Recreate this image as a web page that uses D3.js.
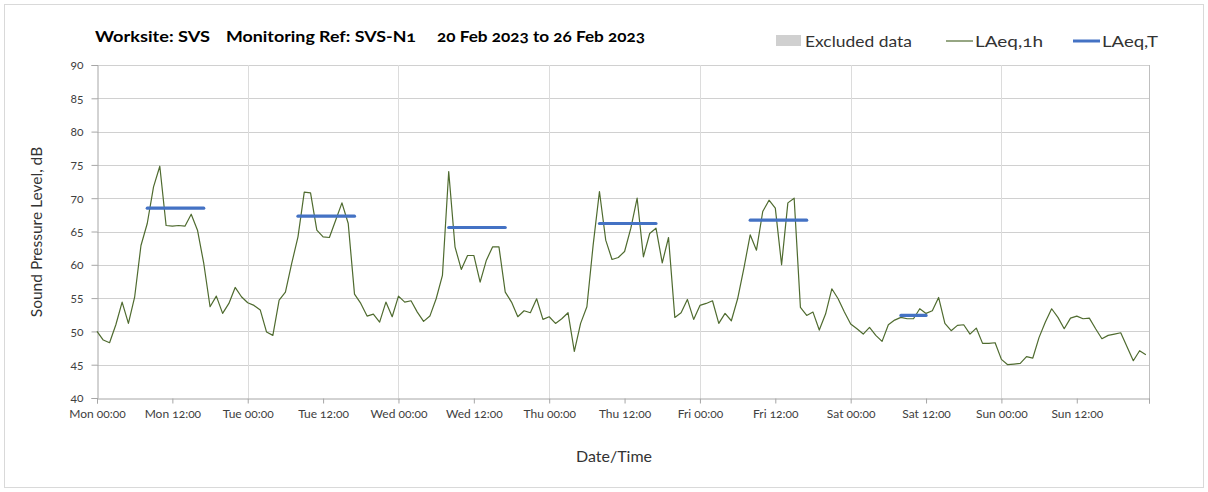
<!DOCTYPE html>
<html>
<head>
<meta charset="utf-8">
<script src="https://cdn.jsdelivr.net/npm/d3@7/dist/d3.min.js"></script>
<style>
  html, body { margin: 0; padding: 0; background: #fff; }
  svg text { font-family: Lato, "Open Sans", sans-serif; font-feature-settings: "onum"; }
</style>
</head>
<body>
<svg id="chart" width="1208" height="492"></svg>
<script>
// ---------- DATA ----------
const titleParts = ["Worksite: SVS", "Monitoring Ref: SVS-N1", "20 Feb 2023 to 26 Feb 2023"];
const legendLabels = ["Excluded data", "LAeq,1h", "LAeq,T"];
const xTickLabels = ["Mon 00:00","Mon 12:00","Tue 00:00","Tue 12:00","Wed 00:00","Wed 12:00",
  "Thu 00:00","Thu 12:00","Fri 00:00","Fri 12:00","Sat 00:00","Sat 12:00","Sun 00:00","Sun 12:00"];
const xTickHours = [0,12,24,36,48,60,72,84,96,108,120,132,144,156];
const dayGridHours = [24,48,72,96,120,144];
const yTicks = [40,45,50,55,60,65,70,75,80,85,90];

// hourly LAeq,1h values, hour 0 = Mon 00:00
const laeq1h = [
  50.0,48.7,48.3,51.0,54.4,51.2,55.2,62.9,66.2,71.7,74.8,65.9,65.8,65.9,65.8,67.6,65.2,60.2,53.7,55.3,52.7,54.2,56.6,55.2,
  54.3,53.9,53.2,49.9,49.4,54.7,55.9,60.2,64.2,70.9,70.8,65.2,64.2,64.1,66.7,69.3,66.2,55.6,54.2,52.3,52.6,51.4,54.4,52.2,
  55.3,54.4,54.6,52.9,51.5,52.3,54.9,58.4,74.0,62.7,59.3,61.4,61.4,57.4,60.7,62.7,62.7,55.9,54.4,52.2,53.1,52.8,54.9,51.8,
  52.2,51.2,51.9,52.8,47.0,51.2,53.7,63.0,71.0,63.7,60.8,61.1,62.0,65.5,70.0,61.2,64.7,65.5,60.3,64.1,52.1,52.8,54.8,51.8,
  53.9,54.2,54.6,51.2,52.7,51.6,54.9,59.5,64.5,62.2,68.0,69.7,68.5,60.0,69.3,70.0,53.6,52.4,52.9,50.2,52.6,56.4,54.9,52.9,
  51.1,50.4,49.6,50.6,49.4,48.5,51.0,51.7,52.1,51.9,51.9,53.4,52.7,53.1,55.1,51.2,50.1,50.9,51.0,49.6,50.5,48.2,48.2,48.3,
  45.8,45.0,45.1,45.2,46.2,46.0,49.1,51.4,53.4,52.1,50.4,52.0,52.3,51.9,52.0,50.4,48.9,49.4,49.6,49.8,47.7,45.6,47.1,46.5
];

// LAeq,T period values (start hour, end hour, level)
const periodStart = [8, 32, 56, 80, 104, 128];
const periodEnd   = [17, 41, 65, 89, 113, 132];
const periodLevel = [68.5, 67.3, 65.6, 66.2, 66.7, 52.4];

// ---------- CHART ----------
const svg = d3.select("#chart");
const plotL = 97, plotR = 1149, plotT = 65, plotB = 398;

const x = d3.scaleLinear().domain([0, 167.5]).range([plotL, plotR]);
const y = d3.scaleLinear().domain([40, 90]).range([plotB, plotT]);

// outer frame
svg.append("rect").attr("x", 4.5).attr("y", 4.5).attr("width", 1199).attr("height", 483)
  .attr("fill", "#fff").attr("stroke", "#d9d9d9").attr("stroke-width", 1);

// horizontal gridlines
svg.append("g").selectAll("line").data(yTicks.filter(v => v > 40)).join("line")
  .attr("x1", plotL).attr("x2", plotR)
  .attr("y1", d => Math.round(y(d)) + 0.5).attr("y2", d => Math.round(y(d)) + 0.5)
  .attr("stroke", "#d0d0d0").attr("stroke-width", 1);

// vertical day gridlines
svg.append("g").selectAll("line").data(dayGridHours).join("line")
  .attr("x1", d => Math.round(x(d)) + 0.5).attr("x2", d => Math.round(x(d)) + 0.5)
  .attr("y1", plotT).attr("y2", plotB)
  .attr("stroke", "#dcdcdc").attr("stroke-width", 1);

// right border
svg.append("line").attr("x1", plotR + 0.5).attr("x2", plotR + 0.5).attr("y1", plotT).attr("y2", plotB + 5)
  .attr("stroke", "#bfbfbf");

// y axis
const yAxis = d3.axisLeft(y).tickValues(yTicks).tickSize(6).tickPadding(8).tickFormat(d3.format("d"));
const gy = svg.append("g").attr("transform", `translate(${plotL + 0.5},0)`).call(yAxis);
gy.select(".domain").attr("stroke", "#a6a6a6");
gy.selectAll(".tick line").attr("stroke", "#a6a6a6");
gy.selectAll(".tick text").attr("font-size", 12).attr("fill", "#404040");

// x axis
const xAxis = d3.axisBottom(x).tickValues(xTickHours.concat([167.5])).tickSize(5).tickPadding(6)
  .tickFormat((d) => { const i = xTickHours.indexOf(d); return i >= 0 ? xTickLabels[i] : ""; });
const gx = svg.append("g").attr("transform", `translate(0,${plotB + 0.5})`).call(xAxis);
gx.select(".domain").attr("stroke", "#a6a6a6");
gx.selectAll(".tick line").attr("stroke", "#a6a6a6");
gx.selectAll(".tick text").attr("font-size", 12).attr("fill", "#404040");

// LAeq,1h line
const line = d3.line().x((d, i) => x(i)).y(d => y(d));
svg.append("path").datum(laeq1h).attr("d", line)
  .attr("fill", "none").attr("stroke", "#4f6b2f").attr("stroke-width", 1.2).attr("stroke-linejoin", "round");

// LAeq,T lines
svg.append("g").selectAll("line").data(periodLevel).join("line")
  .attr("x1", (d, i) => x(periodStart[i])).attr("x2", (d, i) => x(periodEnd[i]))
  .attr("y1", d => y(d)).attr("y2", d => y(d))
  .attr("stroke", "#4472c4").attr("stroke-width", 3.2).attr("stroke-linecap", "round");

// title
const titleX = [95, 226, 437], titleW = [115, 190, 208];
svg.append("g").selectAll("text").data(titleParts).join("text")
  .attr("x", (d, i) => titleX[i]).attr("y", 42)
  .attr("textLength", (d, i) => titleW[i]).attr("lengthAdjust", "spacingAndGlyphs")
  .attr("font-size", 15).attr("font-weight", "bold").attr("fill", "#000")
  .text(d => d);

// legend
svg.append("rect").attr("x", 776).attr("y", 35).attr("width", 25).attr("height", 11).attr("fill", "#d0d0d0");
svg.append("line").attr("x1", 946).attr("x2", 973).attr("y1", 41).attr("y2", 41)
  .attr("stroke", "#4f6b2f").attr("stroke-width", 1.2);
svg.append("line").attr("x1", 1073).attr("x2", 1100).attr("y1", 41).attr("y2", 41)
  .attr("stroke", "#4472c4").attr("stroke-width", 3);
const legX = [805, 975, 1102], legW = [107, 68, 56];
svg.append("g").selectAll("text").data(legendLabels).join("text")
  .attr("x", (d, i) => legX[i]).attr("y", 47)
  .attr("textLength", (d, i) => legW[i]).attr("lengthAdjust", "spacingAndGlyphs")
  .attr("font-size", 16).attr("fill", "#333")
  .text(d => d);

// axis titles
svg.append("text").attr("transform", "translate(42,232) rotate(-90)").attr("text-anchor", "middle")
  .attr("font-size", 15.5).attr("fill", "#333").text("Sound Pressure Level, dB");
svg.append("text").attr("x", 614).attr("y", 462).attr("text-anchor", "middle")
  .attr("font-size", 16).attr("fill", "#333").text("Date/Time");
</script>
</body>
</html>
